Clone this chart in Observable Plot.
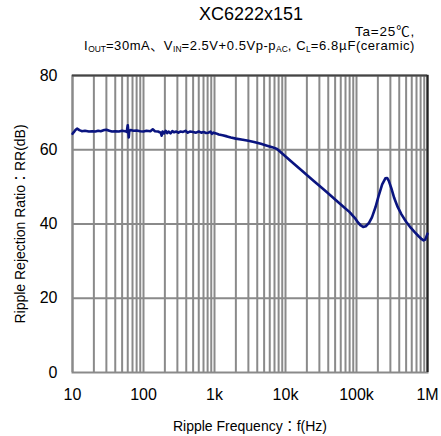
<!DOCTYPE html>
<html>
<head>
<meta charset="utf-8">
<script src="https://cdn.jsdelivr.net/npm/d3@7"></script>
<script src="https://cdn.jsdelivr.net/npm/@observablehq/plot@0.6"></script>
<style>
  body { margin: 0; background: #fff; font-family: "Liberation Sans", Arial, "Noto Sans CJK JP", sans-serif; color: #000; }
  #head { position: relative; width: 441px; height: 60px; }
  #title { position: absolute; left: 199px; top: 4px; font-size: 18px; white-space: nowrap; }
  #cond1 { position: absolute; right: 26px; top: 26px; font-size: 13.5px; line-height: 12px; letter-spacing: 0.8px; }
  #cond2 { position: absolute; right: 26px; top: 38.5px; font-size: 13px; line-height: 12px; letter-spacing: 0.55px; white-space: nowrap; }
  sub { font-size: 0.65em; vertical-align: -0.25em; line-height: 0; letter-spacing: 0; }
</style>
</head>
<body>
<div id="head">
  <div id="title">XC6222x151</div>
  <div id="cond1">Ta=25℃,</div>
  <div id="cond2">I<sub>OUT</sub>=30mA、V<sub>IN</sub>=2.5V+0.5Vp-p<sub>AC</sub>, C<sub>L</sub>=6.8<span style="font-family:'Noto Sans CJK JP'">μ</span>F(ceramic)</div>
</div>
<div id="chart"></div>
<script>
// Ripple frequency (Hz)
const freq = [10, 10.5, 11, 11.6, 12.5, 13.5, 15, 17, 19, 21, 23, 25, 28, 30, 33, 36, 40, 45, 50, 55, 58, 60, 61, 62, 63, 66, 72, 80, 90, 100,
  110, 125, 135, 145, 160, 175, 180, 186, 195, 205, 215, 225, 240, 255, 270, 290, 310, 330, 360, 390, 420, 450, 500, 550, 600, 650, 700, 760, 820, 880, 920, 970,
  1050, 1150, 1300, 1500, 1700, 2000, 2500, 3000, 3600, 4500, 5500, 6500, 7600, 8500, 9500,
  11000, 13000, 16000, 20000, 25000, 30000, 38000, 50000, 66000, 80000, 95000,
  105000, 115000, 124000, 135000, 150000, 165000, 185000, 205000, 230000, 255000, 270000, 285000, 310000, 340000, 380000, 430000, 500000, 580000, 660000, 750000, 830000, 880000, 930000, 965000, 1000000];
// Ripple rejection ratio (dB)
const rr = [64.3, 64.8, 65.3, 65.7, 65.3, 65.0, 65.1, 64.9, 65.0, 64.9, 65.1, 65.0, 65.3, 65.4, 65.1, 64.9, 65.0, 64.9, 65.1, 65.0, 64.8, 66.6, 65.2, 63.3, 65.0, 65.3, 65.1, 65.2, 65.0, 64.9,
  65.1, 65.0, 65.5, 65.0, 64.9, 64.6, 63.8, 64.9, 64.4, 65.1, 64.5, 64.9, 64.4, 65.0, 64.7, 64.9, 64.6, 64.9, 64.8, 65.1, 64.6, 64.9, 64.8, 64.6, 64.9, 64.6, 64.8, 64.5, 64.6, 64.9, 64.3, 64.6,
  64.4, 64.1, 63.9, 63.6, 63.3, 63.0, 62.7, 62.4, 62.1, 61.6, 61.1, 60.7, 60.2, 59.4, 58.6,
  57.5, 56.3, 54.8, 53.2, 51.6, 50.3, 48.6, 46.6, 44.6, 43.2, 41.6,
  40.4, 39.6, 39.2, 39.4, 40.3, 41.8, 44.5, 47.6, 50.7, 52.3, 52.4, 51.6, 49.6, 47.0, 44.6, 42.6, 40.6, 39.0, 37.8, 36.7, 35.9, 35.6, 35.8, 36.6, 37.4];

const xTickValues = [10, 100, 1000, 10000, 100000, 1000000];
const xTickLabels = ["10", "100", "1k", "10k", "100k", "1M"];
const yTickValues = [0, 20, 40, 60, 80];

const data = freq.map((f, i) => ({f, rr: rr[i]}));

// minor log grid: 1..9 per decade
const gridX = [];
for (let d = 10; d < 1e6; d *= 10) for (let m = 1; m <= 9; m++) gridX.push(d * m);
gridX.push(1e6);

const chart = Plot.plot({
  width: 441,
  height: 376,
  marginTop: 15,
  marginBottom: 64,
  marginLeft: 72,
  marginRight: 14,
  style: {fontFamily: "'Liberation Sans', Arial, 'Noto Sans CJK JP', sans-serif", color: "#000", background: "#fff"},
  x: {type: "log", domain: [10, 1e6]},
  y: {domain: [0, 80]},
  marks: [
    Plot.gridX(gridX, {stroke: "#8a8a8a", strokeOpacity: 1, strokeWidth: 2}),
    Plot.gridY([20, 40, 60], {stroke: "#8a8a8a", strokeOpacity: 1, strokeWidth: 2}),
    Plot.frame({stroke: "#8a8a8a", strokeWidth: 2}),
    Plot.ruleY([80], {stroke: "#444", strokeWidth: 2}),
    Plot.ruleX([1e6], {stroke: "#222", strokeWidth: 2}),
    Plot.line(data, {x: "f", y: "rr", stroke: "#0a1480", strokeWidth: 2.6, curve: "linear"}),
    Plot.axisX({ticks: xTickValues, tickFormat: (d) => xTickLabels[xTickValues.indexOf(d)], tickSize: 0, tickPadding: 16, fontSize: 16, label: null}),
    Plot.axisY({ticks: yTickValues, tickSize: 0, tickPadding: 15, fontSize: 16, label: null}),
    Plot.text(["Ripple Frequency：f(Hz)"], {frameAnchor: "bottom", dy: 54, lineAnchor: "middle", textAnchor: "middle", fontSize: 14}),
    Plot.text(["Ripple Rejection Ratio：RR(dB)"], {frameAnchor: "left", dx: -52, rotate: -90, textAnchor: "middle", lineAnchor: "middle", fontSize: 14})
  ]
});
document.getElementById("chart").appendChild(chart);
</script>
</body>
</html>
